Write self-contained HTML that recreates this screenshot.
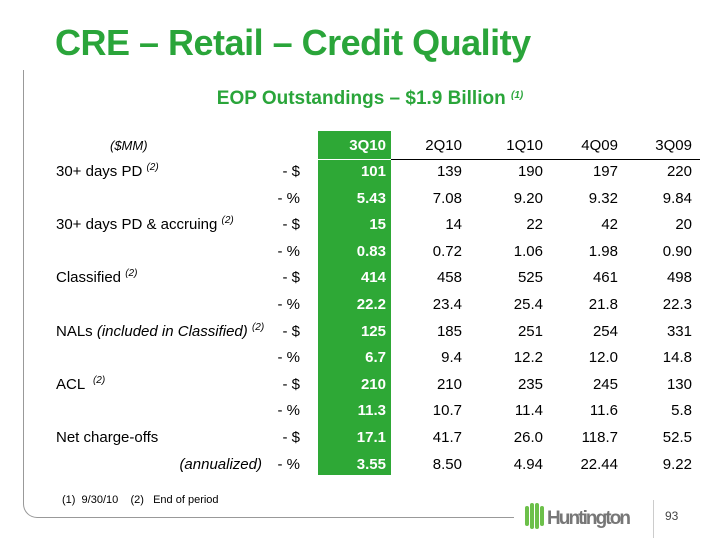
<!DOCTYPE html>
<html><head><meta charset="utf-8"><style>
body{margin:0;width:720px;height:540px;background:#fff;position:relative;overflow:hidden;font-family:"Liberation Sans",sans-serif;}
.abs{position:absolute;}
.title{left:55px;top:22px;font-size:36px;font-weight:bold;color:#2aa53a;letter-spacing:-0.5px;white-space:nowrap;}
.sub{left:0;width:740px;text-align:center;top:88px;font-size:19px;font-weight:bold;color:#2aa53a;}
.green{left:318px;width:73px;top:131px;height:344px;background:#2ea836;}
.hline{left:391px;width:309px;top:159px;height:1px;background:#000;}
.cell{position:absolute;font-size:15px;color:#000;white-space:nowrap;line-height:18px;height:18px;}
.w{color:#fff;font-weight:bold;}
sup{font-size:10px;font-style:italic;vertical-align:6px;line-height:0;}
</style></head><body>
<div class="abs" style="left:23px;top:70px;width:1px;height:430px;background:#999"></div>
<div class="abs" style="left:23px;top:470px;width:490px;height:47px;border-left:1px solid #999;border-bottom:1px solid #999;border-bottom-left-radius:14px;"></div>
<div class="abs title">CRE – Retail – Credit Quality</div>
<div class="abs sub">EOP Outstandings – $1.9 Billion <sup>(1)</sup></div>
<div class="abs green"></div>
<div class="abs" style="left:318px;width:73px;top:159px;height:1px;background:#fff"></div>
<div class="abs hline"></div>
<div id="tbl"></div>
<div class="abs" style="left:62px;top:494px;font-size:11px;">(1)&nbsp; 9/30/10 &nbsp;&nbsp; (2) &nbsp; End of period</div>
<div class="abs" style="left:525px;top:503px;">
<svg width="110" height="26"><g fill="#6cc04a"><rect x="0" y="3" width="4" height="20" rx="2"/><rect x="5" y="0" width="4" height="26" rx="2"/><rect x="10" y="0" width="4" height="26" rx="2"/><rect x="15" y="3" width="4" height="20" rx="2"/></g>
<text x="22" y="21" font-family="Liberation Sans" font-weight="bold" font-size="19" fill="#777" textLength="84">Huntington</text></svg></div>
<div class="abs" style="left:653px;top:500px;width:1px;height:38px;background:#ccc"></div>
<div class="abs" style="left:665px;top:509px;font-size:12px;color:#444">93</div>
<script>
const quarters=["3Q10","2Q10","1Q10","4Q09","3Q09"];
const labels=["30+ days PD <sup>(2)</sup>","","30+ days PD &amp; accruing <sup>(2)</sup>","","Classified <sup>(2)</sup>","","NALs <i>(included in Classified)</i> <sup>(2)</sup>","","ACL &nbsp;<sup>(2)</sup>","","Net charge-offs",""];
const units=["- $","- %","- $","- %","- $","- %","- $","- %","- $","- %","- $","- %"];
const q3_10=["101","5.43","15","0.83","414","22.2","125","6.7","210","11.3","17.1","3.55"];
const q2_10=["139","7.08","14","0.72","458","23.4","185","9.4","210","10.7","41.7","8.50"];
const q1_10=["190","9.20","22","1.06","525","25.4","251","12.2","235","11.4","26.0","4.94"];
const q4_09=["197","9.32","42","1.98","461","21.8","254","12.0","245","11.6","118.7","22.44"];
const q3_09=["220","9.84","20","0.90","498","22.3","331","14.8","130","5.8","52.5","9.22"];
const cols=[q3_10,q2_10,q1_10,q4_09,q3_09];
const rights=[386,462,543,618,692];
const t=document.getElementById('tbl');
function add(html,x,y,cls,right){const d=document.createElement('div');d.className='cell '+cls;d.innerHTML=html;
if(right){d.style.right=(720-x)+'px';}else d.style.left=x+'px';d.style.top=(y-9)+'px';t.appendChild(d);return d;}
let h=add('<i>($MM)</i>',0,146,'',false);h.style.left='110px';h.style.fontSize='13px';


quarters.forEach((q,i)=>{const d=add(q,rights[i],146,i==0?'w':'',true);

});
const rowH=26.6,y0=172;
units.forEach((u,r)=>{const y=y0+r*rowH;
if(labels[r]){const l=add(labels[r],56,y,'',false);

}
if(r==11){const a=add('<i>(annualized)</i>',262,y,'',true);

}
const ud=add(u,300,y,'',true);


cols.forEach((c,i)=>{const d=add(c[r],rights[i],y,i==0?'w':'',true);

});
});
</script>
</body></html>
